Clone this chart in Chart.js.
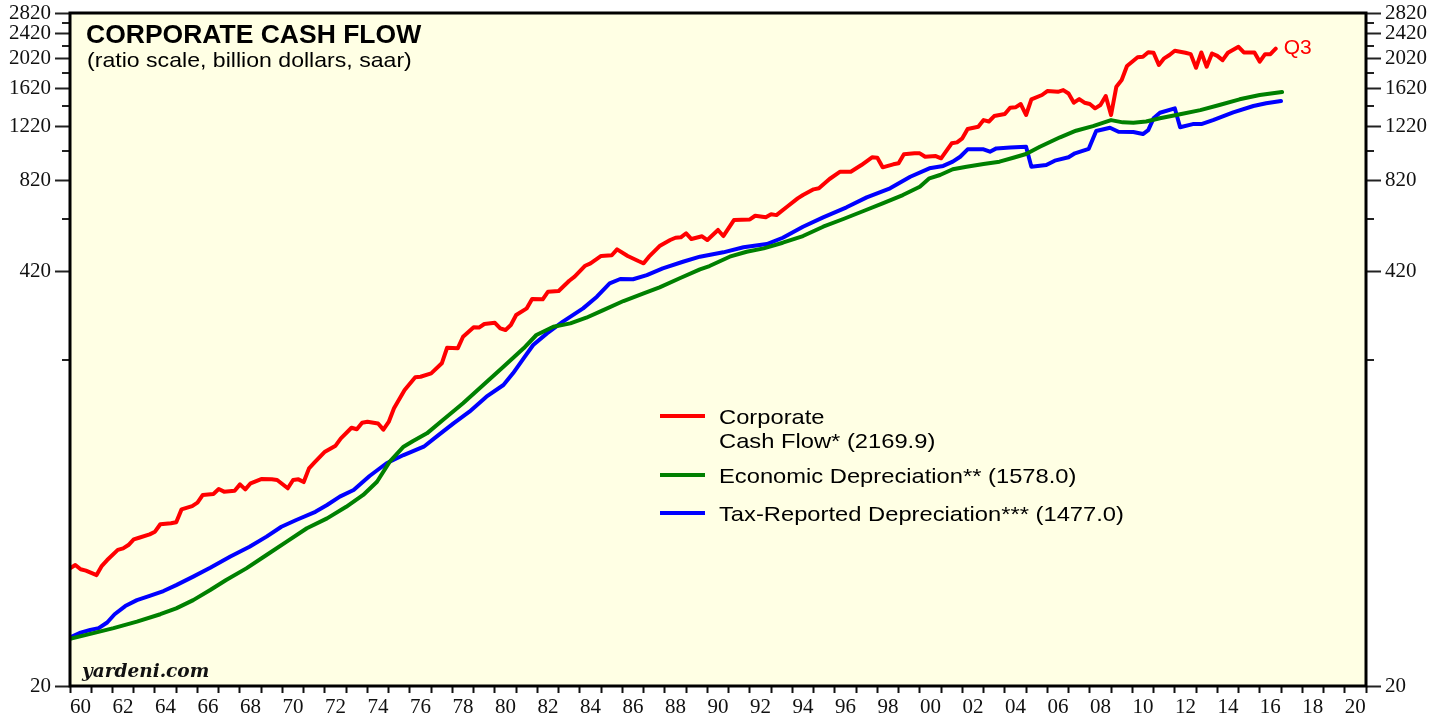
<!DOCTYPE html>
<html>
<head>
<meta charset="utf-8">
<title>Corporate Cash Flow</title>
<script src="https://cdn.jsdelivr.net/npm/chart.js@4.4.1/dist/chart.umd.min.js"></script>
<style>
  html, body { margin: 0; padding: 0; background: #fff; }
  #wrap { width: 1448px; height: 717px; }
</style>
</head>
<body>
<div id="wrap"><canvas id="cashflow-chart" width="1448" height="717"></canvas></div>
<script>
// quarterly readings, x = decimal year
const cashFlowDates = [
  1960.0, 1960.25, 1960.5, 1960.75, 1961.25, 1961.5, 1961.75, 1962.25, 1962.5, 1962.75, 1963.0, 1963.25, 1963.75, 1964.0, 1964.25, 1964.75, 1965.0, 1965.25, 1965.75, 1966.0, 1966.25, 1966.75, 1967.0, 1967.25, 1967.75, 1968.0, 1968.25, 1968.5, 1969.0, 1969.5, 1969.75,
  1970.25, 1970.5, 1970.75, 1971.0, 1971.25, 1971.5, 1972.0, 1972.5, 1972.75, 1973.25, 1973.5, 1973.75, 1974.0, 1974.5, 1974.75, 1975.0, 1975.25, 1975.75, 1976.25, 1976.5, 1977.0, 1977.5, 1977.75, 1978.25, 1978.5, 1979.0, 1979.25, 1979.5,
  1980.0, 1980.25, 1980.5, 1980.75, 1981.0, 1981.5, 1981.75, 1982.25, 1982.5, 1983.0, 1983.5, 1983.75, 1984.25, 1984.5, 1985.0, 1985.5, 1985.75, 1986.25, 1986.75, 1987.0, 1987.25, 1987.75, 1988.25, 1988.5, 1988.75, 1989.0, 1989.25, 1989.75,
  1990.0, 1990.5, 1990.75, 1991.25, 1992.0, 1992.25, 1992.75, 1993.0, 1993.25, 1993.75, 1994.25, 1994.5, 1995.0, 1995.25, 1995.75, 1996.25, 1996.75, 1997.25, 1997.75, 1998.0, 1998.25, 1998.75, 1999.0, 1999.25, 1999.75,
  2000.0, 2000.25, 2000.75, 2001.0, 2001.5, 2001.75, 2002.0, 2002.25, 2002.75, 2003.0, 2003.25, 2003.5, 2004.0, 2004.25, 2004.5, 2004.75, 2005.0, 2005.25, 2005.75, 2006.0, 2006.5, 2006.75, 2007.0, 2007.25, 2007.5, 2007.75, 2008.0, 2008.25, 2008.5, 2008.75, 2009.0, 2009.25, 2009.5, 2009.75,
  2010.25, 2010.5, 2010.75, 2011.0, 2011.25, 2011.5, 2011.75, 2012.0, 2012.5, 2012.75, 2013.0, 2013.25, 2013.5, 2013.75, 2014.0, 2014.25, 2014.5, 2015.0, 2015.25, 2015.75, 2016.0, 2016.25, 2016.5, 2016.75
];
const cashFlowValues = [
  47.5, 48.7, 47.2, 46.7, 45.2, 48.4, 50.5, 54.4, 55.0, 56.4, 58.8, 59.5, 61.0, 62.2, 65.7, 66.2, 66.7, 73.3, 75.1, 77.0, 81.5, 82.1, 85.1, 83.5, 84.1, 88.1, 84.9, 88.8, 91.6, 91.4, 91.0,
  85.6, 91.0, 91.4, 89.6, 99.1, 103.3, 112.0, 117.1, 123.6, 133.6, 132.1, 138.6, 139.6, 137.8, 131.7, 139.4, 154.1, 176.3, 193.6, 194.4, 199.3, 214.6, 240.6, 239.6, 260.9, 279.6, 279.0, 286.5,
  289.1, 277.5, 274.1, 284.3, 306, 321.4, 344.3, 343.5, 363.2, 365, 393.8, 405.6, 439.7, 447.6, 472.4, 474.8, 496, 472.4, 455.2, 447.6, 469.9, 508.2, 531.2, 540.2, 541.8, 558.2, 535.1, 546,
  531.2, 572, 547, 615.2, 618, 635, 627.7, 641.7, 638, 678.6, 721.5, 739.4, 771, 777, 831.9, 877.8, 877.8, 922, 976, 973, 906.6, 926.9, 933.7, 997.6, 1005,
  1005, 980, 985, 968.6, 1081.6, 1089, 1122, 1201.6, 1222, 1283, 1270, 1321.8, 1341.6, 1405, 1409, 1444, 1332, 1494, 1543, 1588, 1580, 1600, 1560, 1458, 1498, 1458, 1444, 1399, 1434, 1532, 1332, 1640, 1722, 1910,
  2036, 2045, 2112, 2105, 1924, 2020, 2071, 2137, 2105, 2084, 1885, 2110, 1900, 2094, 2057, 1994, 2105, 2200, 2110, 2110, 1972, 2084, 2084, 2169.9
];

const econDeprDates = [
  1960.0, 1961.1, 1962.05, 1963.15, 1964.25, 1965.0, 1965.8, 1966.6, 1967.35, 1968.3, 1969.25,
  1970.2, 1971.15, 1972.1, 1973.0, 1973.8, 1974.45, 1975.05, 1975.7, 1976.15, 1976.8, 1977.55, 1978.5, 1979.45,
  1980.4, 1981.35, 1981.95, 1982.75, 1983.55, 1984.3, 1985.1, 1986.05, 1987.0, 1987.75, 1988.7, 1989.65,
  1990.1, 1991.05, 1991.85, 1992.65, 1993.55, 1994.5, 1995.45, 1996.4, 1997.35, 1998.25, 1999.2,
  2000.0, 2000.45, 2000.95, 2001.55, 2002.2, 2003.0, 2003.75, 2004.4, 2005.0, 2005.65, 2006.6, 2007.35, 2008.15, 2009.0, 2009.55,
  2010.05, 2010.65, 2011.3, 2012.25, 2013.2, 2014.1, 2015.05, 2016.0, 2017.05
];
const econDeprValues = [
  28.3, 29.5, 30.6, 32.1, 33.9, 35.4, 37.6, 40.5, 43.6, 47.5, 52.4,
  57.8, 63.8, 68.6, 74.7, 81.5, 89.8, 104.1, 116.2, 121.2, 128.2, 141.4, 159.9, 182.9,
  209.3, 239.6, 264.2, 280.8, 287.8, 300, 317.4, 339.2, 359, 375.2, 400.9, 428.2,
  438.7, 469.9, 487.4, 499.6, 520.8, 547, 585.8, 620, 657.6, 695.6, 739.4,
  786, 836, 857, 893.6, 910.6, 929, 945, 973, 1000, 1054.6, 1130.6, 1186.6, 1228, 1283, 1262,
  1258, 1270, 1300, 1339, 1381, 1434, 1495, 1543, 1578.0
];

const taxDeprDates = [
  1960.0, 1960.5, 1960.95, 1961.35, 1961.75, 1962.1, 1962.6, 1963.15, 1963.75, 1964.4, 1965.0, 1965.8, 1966.6, 1967.55, 1968.45, 1969.25, 1969.95,
  1970.65, 1971.55, 1972.1, 1972.7, 1973.35, 1974.1, 1974.9, 1975.7, 1976.65, 1977.25, 1978.05, 1978.8, 1979.6,
  1980.4, 1980.85, 1981.35, 1981.8, 1982.45, 1983.2, 1984.15, 1984.8, 1985.4, 1985.9, 1986.5, 1987.15, 1987.9, 1988.85, 1989.65,
  1990.75, 1991.7, 1992.8, 1993.55, 1994.5, 1995.45, 1996.55, 1997.5, 1998.6, 1999.55,
  2000.45, 2001.1, 2001.55, 2001.9, 2002.25, 2003.0, 2003.3, 2003.6, 2004.25, 2005.0, 2005.25, 2005.95, 2006.35, 2007.0, 2007.3, 2007.95, 2008.3, 2008.95, 2009.35,
  2010.05, 2010.5, 2010.75, 2011.0, 2011.3, 2012.0, 2012.25, 2012.85, 2013.25, 2013.8, 2014.75, 2015.7, 2016.3, 2017.0
];
const taxDeprValues = [
  28.6, 29.6, 30.2, 30.6, 31.9, 33.9, 36.0, 37.6, 38.8, 40.2, 42.0, 44.7, 47.7, 51.8, 55.7, 60.0, 64.5,
  67.8, 72.0, 75.7, 80.5, 84.5, 93.7, 102.9, 109.3, 116.2, 125.1, 138, 150.3, 167.9,
  182.9, 199.3, 222.6, 245.4, 267.4, 291.4, 321.4, 350.2, 386.4, 398.8, 398, 410.6, 431.4, 452.8, 469.9,
  485.2, 503.6, 515.8, 540.2, 585.8, 627.6, 675.6, 727, 777.2, 846,
  900, 916, 945, 980, 1035, 1035, 1017, 1042, 1049, 1055, 911, 922, 952, 976, 1005, 1039, 1184, 1213, 1178,
  1175, 1158, 1192, 1300, 1354, 1399, 1217, 1246, 1246, 1283, 1358, 1423, 1452, 1477.0
];

const seriesNames = [
  ['Corporate', 'Cash Flow* (2169.9)'],
  ['Economic Depreciation** (1578.0)'],
  ['Tax-Reported Depreciation*** (1477.0)']
];
const seriesColors = ['#ff0000', '#008000', '#0000ff'];

const yTickValues = [20, 220, 420, 620, 820, 1020, 1220, 1420, 1620, 1820, 2020, 2220, 2420, 2620, 2820];
const yLabelValues = [20, 420, 820, 1220, 1620, 2020, 2420, 2820];
const xFirstYear = 1960, xLastYear = 2021;
const lastQuarterTag = 'Q3';

function toPoints(dates, values) {
  return dates.map((d, i) => ({ x: d, y: values[i] }));
}

function stretchText(ctx, text, x, y, font, sx) {
  ctx.save();
  ctx.font = font;
  ctx.translate(x, y);
  ctx.scale(sx, 1);
  ctx.fillText(text, 0, 0);
  ctx.restore();
}

const decor = {
  id: 'decor',
  beforeDraw(chart) {
    const { ctx, chartArea: a } = chart;
    ctx.save();
    ctx.fillStyle = '#fff';
    ctx.fillRect(0, 0, chart.width, chart.height);
    ctx.fillStyle = '#ffffe4';
    ctx.fillRect(a.left, a.top, a.right - a.left, a.bottom - a.top);
    ctx.restore();
  },
  afterDraw(chart) {
    const { ctx, chartArea: a } = chart;
    const yScale = chart.scales.y;
    ctx.save();

    // short ticks for the unlabelled values
    ctx.strokeStyle = '#222';
    ctx.lineWidth = 2;
    yTickValues.filter(v => !yLabelValues.includes(v)).forEach(v => {
      const py = Math.round(yScale.getPixelForValue(v));
      ctx.beginPath();
      ctx.moveTo(a.left - 8, py); ctx.lineTo(a.left, py);
      ctx.moveTo(a.right, py); ctx.lineTo(a.right + 8, py);
      ctx.stroke();
    });

    // frame
    ctx.strokeStyle = '#000';
    ctx.lineWidth = 3;
    ctx.strokeRect(a.left, a.top, a.right - a.left, a.bottom - a.top);

    // title
    ctx.fillStyle = '#000';
    ctx.textBaseline = 'alphabetic';
    stretchText(ctx, 'CORPORATE CASH FLOW', a.left + 16, 43, 'bold 25px "Liberation Sans", Arial, sans-serif', 1.06);
    stretchText(ctx, '(ratio scale, billion dollars, saar)', a.left + 17, 67, '21px "Liberation Sans", Arial, sans-serif', 1.1);

    // legend
    const rows = [416, 475, 513];
    seriesNames.forEach((lines, i) => {
      ctx.strokeStyle = seriesColors[i];
      ctx.lineWidth = 4;
      ctx.beginPath();
      ctx.moveTo(660, rows[i]);
      ctx.lineTo(705, rows[i]);
      ctx.stroke();
      ctx.fillStyle = '#000';
      lines.forEach((t, j) => {
        stretchText(ctx, t, 719, rows[i] + 8 + j * 24, '21px "Liberation Sans", Arial, sans-serif', 1.13);
      });
    });

    // Q3 tag at the end of the cash flow line
    const pts = chart.getDatasetMeta(0).data;
    const last = pts[pts.length - 1];
    ctx.fillStyle = seriesColors[0];
    ctx.textBaseline = 'middle';
    stretchText(ctx, lastQuarterTag, last.x + 8, last.y, '20px "Liberation Sans", Arial, sans-serif', 1.05);

    // source
    ctx.fillStyle = '#111';
    ctx.textBaseline = 'alphabetic';
    ctx.font = 'italic bold 18.5px "DejaVu Serif", serif';
    ctx.fillText('yardeni.com', a.left + 12, a.bottom - 9);

    ctx.restore();
  }
};

function yAxis(position, width) {
  return {
    type: 'logarithmic',
    position: position,
    min: 20,
    max: 2820,
    afterBuildTicks: s => { s.ticks = yTickValues.map(v => ({ value: v })); },
    afterFit: s => { s.width = width; s.paddingTop = 0; s.paddingBottom = 0; },
    grid: {
      drawOnChartArea: false,
      tickLength: 15,
      tickWidth: 2,
      tickColor: c => (c.tick && yLabelValues.includes(c.tick.value)) ? '#222' : 'rgba(0,0,0,0)'
    },
    border: { display: false },
    ticks: {
      autoSkip: false,
      padding: 4,
      color: '#111',
      font: { family: '"Liberation Serif", "Times New Roman", serif', size: 21 },
      callback: v => yLabelValues.includes(v) ? String(v) : ''
    }
  };
}

const ctx = document.getElementById('cashflow-chart').getContext('2d');
new Chart(ctx, {
  type: 'line',
  data: {
    datasets: [
      { label: seriesNames[0].join(' '), data: toPoints(cashFlowDates, cashFlowValues), borderColor: seriesColors[0] },
      { label: seriesNames[1][0], data: toPoints(econDeprDates, econDeprValues), borderColor: seriesColors[1] },
      { label: seriesNames[2][0], data: toPoints(taxDeprDates, taxDeprValues), borderColor: seriesColors[2] }
    ]
  },
  options: {
    responsive: false,
    animation: false,
    devicePixelRatio: 1,
    layout: { padding: { top: 13, left: 0, right: 0, bottom: 0 } },
    elements: {
      line: { borderWidth: 4, tension: 0, borderJoinStyle: 'round', borderCapStyle: 'round' },
      point: { radius: 0, hoverRadius: 0 }
    },
    plugins: {
      legend: { display: false },
      tooltip: { enabled: false }
    },
    scales: {
      x: {
        type: 'linear',
        min: xFirstYear,
        max: xLastYear,
        afterFit: s => { s.height = 31; s.paddingLeft = 0; s.paddingRight = 0; },
        grid: { drawOnChartArea: false, tickLength: 7, tickWidth: 2, tickColor: '#111' },
        border: { display: false },
        ticks: {
          stepSize: 1,
          autoSkip: false,
          maxTicksLimit: 100,
          maxRotation: 0,
          padding: 2,
          labelOffset: 10.6,
          color: '#111',
          font: { family: '"Liberation Serif", "Times New Roman", serif', size: 21 },
          callback: v => (v % 2 === 0 && v < xLastYear) ? String(v % 100).padStart(2, '0') : ''
        }
      },
      y: yAxis('left', 70),
      y2: yAxis('right', 82)
    }
  },
  plugins: [decor]
});
</script>
</body>
</html>
